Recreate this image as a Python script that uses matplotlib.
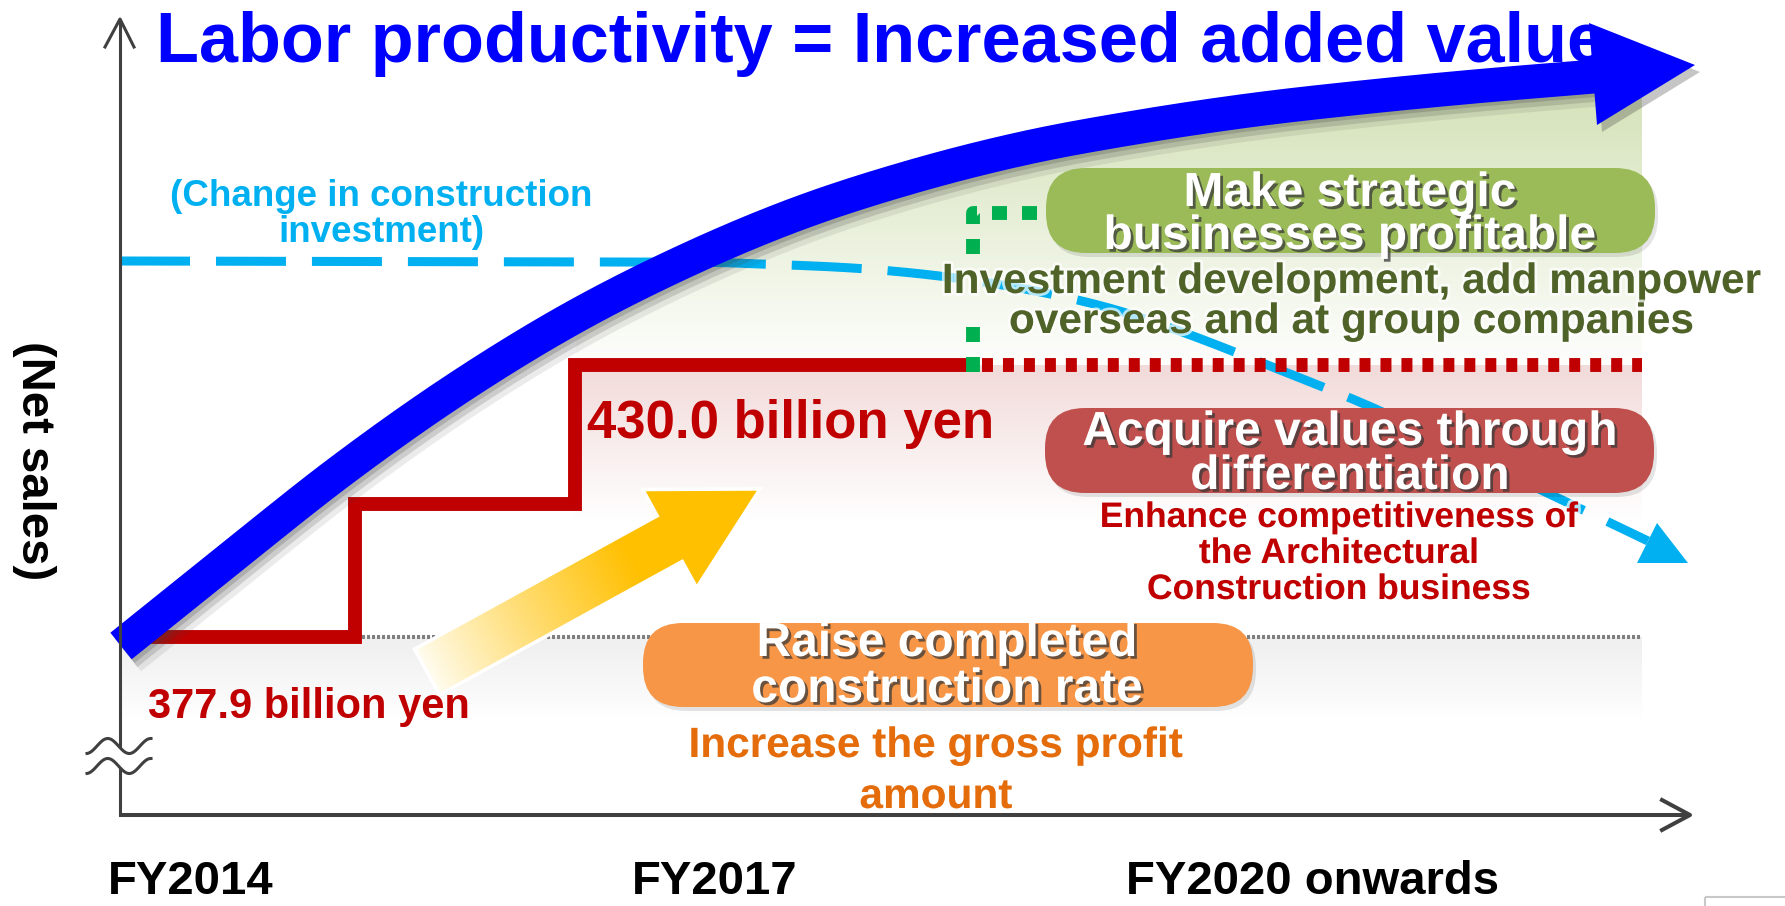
import numpy as np
import matplotlib
matplotlib.use("Agg")
import matplotlib.pyplot as plt
from matplotlib.patches import Polygon, FancyBboxPatch, Rectangle
import matplotlib.patheffects as pe
from matplotlib.colors import to_rgb

plt.rcParams['font.family'] = ['Liberation Sans', 'DejaVu Sans']
plt.rcParams['lines.scale_dashes'] = False

# ---------------- data ----------------
title_text = "Labor productivity = Increased added value"
period_labels = ["FY2014", "FY2017", "FY2020 onwards"]
net_sales_bn = [377.9, 403.4, 430.0]          # step levels of net sales (billion yen)
sales_labels = ["377.9 billion yen", "430.0 billion yen"]
y_axis_label = "(Net sales)"
invest_label = ["(Change in construction", "investment)"]
green_box_text = ["Make strategic", "businesses profitable"]
green_sub_text = ["Investment development, add manpower", "overseas and at group companies"]
red_box_text = ["Acquire values through", "differentiation"]
red_sub_text = ["Enhance competitiveness of", "the Architectural", "Construction business"]
orange_box_text = ["Raise completed", "construction rate"]
orange_sub_text = ["Increase the gross profit", "amount"]

# ---------------- layout ----------------
W, H = 1785, 906
fig = plt.figure(figsize=(W / 100, H / 100), dpi=100)
ax = fig.add_axes([0, 0, 1, 1])
ax.set_xlim(0, W)
ax.set_ylim(H, 0)
ax.axis('off')

BLUE = '#0000ff'
RED = '#c00000'
CYAN = '#00b0f0'
GREEN_DOT = '#00b050'
AXC = '#404040'

# sales value -> vertical position (two reference levels)
Y_LEVEL_PX = (637, 365)
def sales_y(v):
    v0, v1 = net_sales_bn[0], net_sales_bn[-1]
    return Y_LEVEL_PX[0] + (v - v0) * (Y_LEVEL_PX[1] - Y_LEVEL_PX[0]) / (v1 - v0)

STEP_X = [120, 355, 575, 973]
PLAN_END_X = 1642


def smooth(pts, n=24):
    P = np.array(pts, float)
    P = np.vstack([2 * P[0] - P[1], P, 2 * P[-1] - P[-2]])
    out = []
    for i in range(1, len(P) - 2):
        p0, p1, p2, p3 = P[i - 1], P[i], P[i + 1], P[i + 2]
        for t in np.linspace(0, 1, n, endpoint=False):
            out.append(0.5 * ((2 * p1) + (-p0 + p2) * t + (2 * p0 - 5 * p1 + 4 * p2 - p3) * t ** 2
                              + (-p0 + 3 * p1 - 3 * p2 + p3) * t ** 3))
    out.append(P[-2])
    return np.array(out)


def grad_rect(x0, x1, y0, y1, color, y_full, y_clear, clip=None, z=1):
    ys = np.linspace(y0, y1, 300)
    s = np.clip((y_clear - ys) / (y_clear - y_full), 0, 1)
    rgb = np.array(to_rgb(color))
    img = np.ones((300, 2, 3))
    img[:, :, :] = 1 - (1 - rgb)[None, None, :] * s[:, None, None]
    im = ax.imshow(img, extent=(x0, x1, y1, y0), origin='upper', aspect='auto',
                   zorder=z, interpolation='bilinear')
    if clip is not None:
        im.set_clip_path(clip)
    return im

# blue band centre line
band_pts = [(121, 646), (228, 560), (342, 470), (455, 390), (569, 320), (683, 262),
            (797, 214), (911, 177), (1025, 148), (1138, 127), (1252, 110), (1366, 97),
            (1480, 86), (1600, 76)]
band = smooth(band_pts)

# ---------------- background gradients ----------------
mask = band[band[:, 0] >= 575]
green_clip = Polygon(np.vstack([[575, 365], mask, [PLAN_END_X, 76], [PLAN_END_X, 365]]),
                     closed=True, transform=ax.transData)
grad_rect(575, PLAN_END_X, 60, 365, '#d7e4bd', 110, 372, clip=green_clip, z=1)
grad_rect(575, PLAN_END_X, 365, 520, '#f2dcdb', 372, 520, z=1)
grad_rect(120, PLAN_END_X, 637, 720, '#f0f0f0', 645, 720, z=1)

# gray dotted base line
ax.plot([362, PLAN_END_X], [sales_y(net_sales_bn[0])] * 2, color='#7f7f7f', lw=2.9,
        dashes=(2.2, 1.4), zorder=2)

# ---------------- cyan construction investment line ----------------
cyan_pts = [(120, 261), (640, 262), (760, 264), (880, 270), (990, 283), (1090, 303),
            (1171, 328), (1270, 366), (1378, 410), (1460, 451), (1541, 490), (1600, 518),
            (1648, 541)]
cy = smooth(cyan_pts)
ax.plot(cy[:, 0], cy[:, 1], color=CYAN, lw=6.5, dashes=(50.4, 18.7), zorder=3,
        solid_capstyle='butt')
ax.add_patch(Polygon([(1657, 523), (1637, 563), (1688, 563)], closed=True,
                     facecolor=CYAN, edgecolor='none', zorder=3))

# ---------------- red step line (net sales) ----------------
step_y = [sales_y(v) for v in net_sales_bn] + [sales_y(net_sales_bn[-1])]
ax.step(STEP_X, step_y, where='post', color=RED, lw=10, zorder=4,
        solid_joinstyle='miter', solid_capstyle='butt')
ax.plot([982, PLAN_END_X], [sales_y(net_sales_bn[-1])] * 2, color=RED, lw=10,
        dashes=(7.9, 7.2), zorder=4)

# green dotted connector (partly hidden behind the text in the original)
ax.plot([973, 973], [sales_y(net_sales_bn[-1]) + 7, 326], color=GREEN_DOT,
        lw=10, dashes=(10.8, 10.8), zorder=4.5)
ax.plot([973, 973, 1050], [254, 213, 213], color=GREEN_DOT,
        lw=10, dashes=(10.8, 10.8), zorder=4.5)

# ---------------- yellow arrow ----------------
T = np.array([427.0, 672.0])
P = np.array([760.0, 489.0])
L = np.linalg.norm(P - T)
u = (P - T) / L
n = np.array([abs(u[1]), abs(u[0])])
B = T + u * (L - 103)
sh, hh = 26, 56
ypoly = np.array([T + n * sh, B + n * sh, B + n * hh, P, B - n * hh, B - n * sh, T - n * sh])
yclip = Polygon(ypoly, closed=True, transform=ax.transData)
gx0, gx1, gy0, gy1 = 395, 770, 480, 710
XX, YY = np.meshgrid(np.linspace(gx0, gx1, 300), np.linspace(gy0, gy1, 200))
tt = ((XX - T[0]) * u[0] + (YY - T[1]) * u[1]) / L
ss = np.clip(tt / 0.62, 0, 1) ** 0.9
c0 = np.array(to_rgb('#fffdf2'))
c1 = np.array(to_rgb('#ffc000'))
yimg = c0[None, None, :] + (c1 - c0)[None, None, :] * ss[:, :, None]
im = ax.imshow(yimg, extent=(gx0, gx1, gy1, gy0), origin='upper', aspect='auto', zorder=5,
               interpolation='bilinear')
im.set_clip_path(yclip)
ax.add_patch(Polygon(ypoly, closed=True, fill=False, edgecolor='white', lw=2.5, zorder=5.1))

# ---------------- boxes ----------------
def pill(x, y, w, h, color):
    ax.add_patch(FancyBboxPatch((x + 3, y + 4), w, h, boxstyle="round,pad=0,rounding_size=40",
                                facecolor='#000000', alpha=0.10, edgecolor='none', zorder=5.5))
    ax.add_patch(FancyBboxPatch((x, y), w, h, boxstyle="round,pad=0,rounding_size=40",
                                facecolor=color, edgecolor='none', zorder=6))

pill(1046, 168, 609, 85, '#9bbb59')
pill(1045, 408, 609, 85, '#c0504d')
pill(643, 623, 610, 84, '#f79646')

box_fx = [pe.withSimplePatchShadow(offset=(2, -2), shadow_rgbFace='#3a3a3a', alpha=0.75)]
glow = [pe.withStroke(linewidth=4, foreground='white', alpha=0.7)]

def lines(texts, x, ys, size, color, fx, z=7):
    for t, yy in zip(texts, ys):
        ax.text(x, yy, t, ha='center', va='baseline', fontsize=size, fontweight='bold',
                color=color, path_effects=fx, zorder=z)

lines(green_box_text, 1350, [206, 249], 34.5, 'white', box_fx)
lines(red_box_text, 1350, [445, 489], 34.5, 'white', box_fx)
lines(orange_box_text, 947, [656, 702], 34.5, 'white', box_fx)
lines(green_sub_text, 1352, [293, 333], 30.5, '#4f6228', glow)
lines(red_sub_text, 1339, [527, 563, 599], 25.5, RED, glow)
lines(orange_sub_text, 936, [757, 808], 30.5, '#e46c0a', glow)

# ---------------- other texts ----------------
ax.text(156, 62, title_text, ha='left', va='baseline', fontsize=50.6, fontweight='bold',
        color=BLUE, zorder=7.5)
lines(invest_label, 381, [206, 242], 26.5, CYAN, [], z=7)
ax.text(148, 718, sales_labels[0], ha='left', va='baseline', fontsize=30, fontweight='bold',
        color=RED, zorder=7)
ax.text(587, 438, sales_labels[1], ha='left', va='baseline', fontsize=38, fontweight='bold',
        color=RED, zorder=7)
ax.text(34, 461, y_axis_label, ha='center', va='center', rotation=270, fontsize=34,
        fontweight='bold', color='black', zorder=7)
period_x = [191, 715, 1313]
for lab, xx in zip(period_labels, period_x):
    ax.text(xx, 904, lab, ha='center', va='bottom', fontsize=34, fontweight='bold',
            color='black', zorder=7)

# ---------------- blue band arrow ----------------
head = np.array([(1589, 23), (1695, 65), (1597, 125)])
for off, lw, a in [((7, 9), 30, 0.10), ((5, 7), 26, 0.18), ((4, 5), 22, 0.22)]:
    ax.plot(band[:, 0] + off[0], band[:, 1] + off[1], color='#404040', lw=lw, alpha=a,
            solid_capstyle='butt', solid_joinstyle='round', zorder=8)
ax.add_patch(Polygon(head + np.array([5, 7]), closed=True, facecolor='#404040', alpha=0.3,
                     edgecolor='none', zorder=8))
ax.plot(band[:, 0], band[:, 1], color=BLUE, lw=24.5, solid_capstyle='butt',
        solid_joinstyle='round', zorder=9)
ax.add_patch(Polygon(head, closed=True, facecolor=BLUE, edgecolor='none', zorder=9))

# ---------------- axes ----------------
ax.plot([120, 120], [815, 20], color=AXC, lw=2.2, zorder=10, solid_capstyle='butt')
ax.plot([105, 120, 134], [47, 19, 47], color=AXC, lw=2.2, zorder=10)
ax.plot([119, 1688], [815, 815], color=AXC, lw=2.9, zorder=10, solid_capstyle='butt')
ax.plot([1662, 1690, 1662], [800, 815, 830], color=AXC, lw=2.9, zorder=10)
wx = np.linspace(87, 151, 80)
wy = 746 - 7.5 * np.sin(2 * np.pi * (wx - 97) / 43)
sel = (wx > 108) & (wx < 132)
ax.fill_between(wx[sel], wy[sel], wy[sel] + 20, color='white', zorder=10.2, lw=0)
ax.plot(wx, wy, color=AXC, lw=2.2, zorder=10.5)
ax.plot(wx, wy + 20, color=AXC, lw=2.2, zorder=10.5)

# bottom-right frame fragment
ax.add_patch(Rectangle((1705, 897), 120, 40, fill=False, edgecolor='#c8c8c8', lw=1.5,
                       zorder=10))

ax.set_xlim(0, W)
ax.set_ylim(H, 0)
fig.savefig('out.png', dpi=100)
